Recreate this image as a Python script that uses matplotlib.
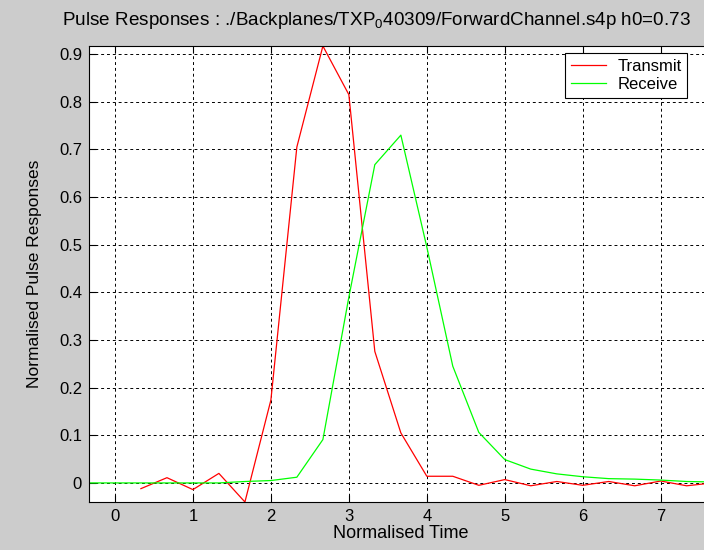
import matplotlib
matplotlib.use('Agg')
import matplotlib.pyplot as plt

plt.rcParams['font.family'] = ['Liberation Sans', 'DejaVu Sans']
plt.rcParams['mathtext.fontset'] = 'custom'
plt.rcParams['mathtext.rm'] = 'Liberation Sans'

# sample times (normalised, 1/3 UI spacing)
tx_time = [0.333, 0.667, 1.0, 1.333, 1.667, 2.0, 2.333, 2.667, 3.0, 3.333, 3.667,
           4.0, 4.333, 4.667, 5.0, 5.333, 5.667, 6.0, 6.333, 6.667, 7.0, 7.333, 7.667]
tx_pulse = [-0.012, 0.011, -0.014, 0.020, -0.040, 0.174, 0.705, 0.917, 0.815, 0.276, 0.105,
            0.014, 0.014, -0.005, 0.007, -0.006, 0.003, -0.005, 0.003, -0.006, 0.004, -0.006, 0.000]

rx_time = [-0.333, 0.0, 0.333, 0.667, 1.0, 1.333, 1.667, 2.0, 2.333, 2.667, 3.0, 3.333, 3.667,
           4.0, 4.333, 4.667, 5.0, 5.333, 5.667, 6.0, 6.333, 6.667, 7.0, 7.333, 7.667]
rx_pulse = [0.0, 0.0, 0.0, 0.0, 0.0, 0.0, 0.003, 0.005, 0.012, 0.091, 0.39, 0.668, 0.730,
            0.495, 0.245, 0.106, 0.049, 0.029, 0.019, 0.013, 0.009, 0.008, 0.006, 0.003, 0.002]

x_ticks = [0, 1, 2, 3, 4, 5, 6, 7]
y_ticks = [0, 0.1, 0.2, 0.3, 0.4, 0.5, 0.6, 0.7, 0.8, 0.9]
y_tick_labels = ['0', '0.1', '0.2', '0.3', '0.4', '0.5', '0.6', '0.7', '0.8', '0.9']

# only the visible part of the original title
title = 'Pulse Responses : ./Backplanes/TXP$_0$40309/ForwardChannel.s4p h0=0.73'

fig = plt.figure(figsize=(7.04, 5.5), dpi=100, facecolor='#cccccc')
ax = fig.add_axes([0.1264, 0.0873, 0.886, 0.829])
ax.set_facecolor('white')

ax.plot(tx_time, tx_pulse, color='#ff0000', linewidth=0.9, label='Transmit')
ax.plot(rx_time, rx_pulse, color='#00ff00', linewidth=0.9, label='Receive')

ax.set_xlim(-0.333, 7.667)
ax.set_ylim(-0.040, 0.917)
ax.set_xticks(x_ticks)
ax.set_yticks(y_ticks)
ax.set_yticklabels(y_tick_labels)
ax.tick_params(direction='in', length=5, width=0.8, top=True, right=True,
               labelsize=12, pad=5, colors='black')

ax.grid(True, color='black', linestyle=(0, (3, 3)), linewidth=0.7)
for spine in ax.spines.values():
    spine.set_linewidth(0.8)

ax.set_xlabel('Normalised Time', fontsize=13, labelpad=1)
ax.set_ylabel('Normalised Pulse Responses', fontsize=12.5, labelpad=12)

fig.text(62 / 704, 1 - 25 / 550, title, fontsize=13.6, ha='left', va='baseline')

leg = ax.legend(loc='upper left', bbox_to_anchor=(0.763, 0.985), fontsize=12,
                fancybox=False, framealpha=1, edgecolor='black', borderaxespad=0,
                handlelength=2.1, handletextpad=0.7, borderpad=0.35, labelspacing=0.2)
leg.get_frame().set_linewidth(0.8)

fig.savefig('out.png', dpi=100, facecolor=fig.get_facecolor())
